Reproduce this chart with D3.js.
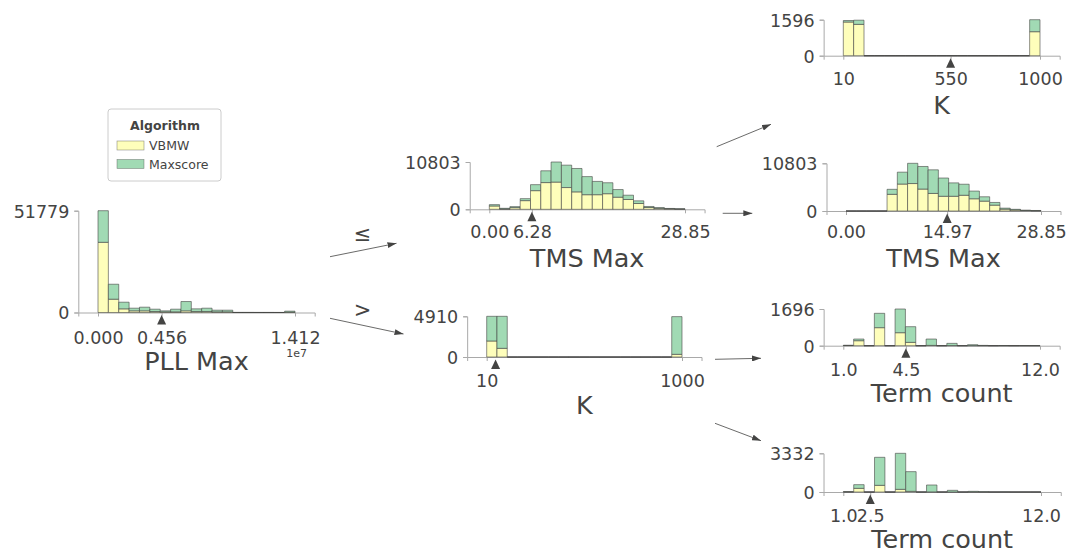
<!DOCTYPE html>
<html><head><meta charset="utf-8">
<script src="https://cdn.jsdelivr.net/npm/d3@7"></script>
<style>
body{margin:0;background:#fff;}
svg{display:block;}
text{font-family:"DejaVu Sans",sans-serif;fill:#444443;}
</style></head><body>
<svg id="chart" width="1068" height="553"></svg>
<script>
// ---------------- DATA ----------------
const classNames = ["VBMW", "Maxscore"];
const legendTitle = "Algorithm";

// Root: PLL Max (19 bins over [0, 1.412e7]), split 0.456e7
const pllDomain = [0, 14120000];
const pllSplit = 4560000;
const pllTicks = [0, 4560000, 14120000];
const pllVBMW     = [35703, 6768, 1861, 846, 846, 508, 338, 338, 846, 508, 508, 338, 338, 10, 10, 10, 10, 5, 169];
const pllMaxscore = [16076, 7615, 3384, 1354, 1861, 1184, 508, 1354, 4738, 1353, 1692, 846, 846, 30, 30, 20, 20, 15, 508];

// Left child (<=): TMS Max, split 6.28
const tmsDomain = [0, 28.85];
const tmsLeftSplit = 6.28;
const tmsLeftTicks = [0, 6.28, 28.85];
const tmsLeftVBMW     = [760, 76, 380, 1978, 4260, 6103, 6216, 4966, 3980, 3336, 3336, 3564, 2768, 2236, 1327, 417, 228, 114, 57];
const tmsLeftMaxscore = [305, 152, 228, 456, 1370, 2691, 4587, 5117, 5345, 4132, 3032, 2501, 1743, 986, 606, 228, 151, 76, 57];

// Right child (>): K, split ~55
const kDomain = [10, 1000];
const kRightSplit = 55;
const kRightTicks = [10, 1000];
const kRightVBMW     = [1932, 1046, 0, 0, 0, 0, 0, 0, 0, 0, 0, 0, 0, 0, 0, 0, 0, 0, 322];
const kRightMaxscore = [2978, 3864, 0, 0, 0, 0, 0, 0, 0, 0, 0, 0, 0, 0, 0, 0, 0, 0, 4548];

// Grandchild: K, split 550
const kTopSplit = 550;
const kTopTicks = [10, 550, 1000];
const kTopVBMW     = [1493, 1389, 0, 0, 0, 0, 0, 0, 0, 0, 0, 0, 0, 0, 0, 0, 0, 0, 1064];
const kTopMaxscore = [67, 186, 0, 0, 0, 0, 0, 0, 0, 0, 0, 0, 0, 0, 0, 0, 0, 0, 532];

// Grandchild: TMS Max, split 14.97
const tmsRightSplit = 14.97;
const tmsRightTicks = [0, 14.97, 28.85];
const tmsRightVBMW     = [0, 0, 0, 0, 3777, 6103, 6216, 4966, 3980, 3336, 3336, 3564, 2768, 2236, 1327, 417, 228, 114, 57];
const tmsRightMaxscore = [0, 0, 0, 0, 1133, 2691, 4587, 5117, 5345, 4132, 3032, 2501, 1743, 986, 606, 228, 151, 76, 57];

// Grandchild: Term count, split 4.5
const termDomain = [1, 12];
const termASplit = 4.5;
const termATicks = [1, 4.5, 12];
const termAVBMW     = [10, 231, 0, 833, 0, 601, 154, 0, 15, 0, 5, 0, 3, 1, 0, 0, 0, 0, 0];
const termAMaxscore = [10, 77, 0, 663, 0, 1095, 725, 0, 293, 0, 103, 0, 43, 14, 0, 8, 0, 4, 2];

// Grandchild: Term count, split 2.5
const termBSplit = 2.5;
const termBTicks = [1, 2.5, 12];
const termBVBMW     = [10, 316, 0, 574, 0, 230, 57, 0, 10, 0, 3, 0, 1, 0, 0, 0, 0, 0, 0];
const termBMaxscore = [15, 316, 0, 2413, 0, 3102, 1695, 0, 593, 0, 141, 0, 56, 20, 0, 10, 0, 5, 3];

const edgeLabels = ["\u2264", ">"];

// ---------------- STYLE / LAYOUT ----------------
const colors = ["#fefebb", "#a1dab4"];
const edgeColor = "#444443";
const axisColor = "#a9a9a9";
const tickFont = 17.5, labelFont = 25.5;

const nodes = [
  {feature:"PLL Max", domain:pllDomain, split:pllSplit, ticks:pllTicks, a:pllVBMW, b:pllMaxscore,
   fmt:v => (v/1e7).toFixed(3), offset:"1e7",
   L:{x0:98, x1:295, base:312.5, top:210.7, tickDy:31, labelDy:57}},
  {feature:"TMS Max", domain:tmsDomain, split:tmsLeftSplit, ticks:tmsLeftTicks, a:tmsLeftVBMW, b:tmsLeftMaxscore,
   fmt:v => v.toFixed(2), L:{x0:489.3, x1:685, base:209.3, top:162, tickDy:28.5, labelDy:57.5}},
  {feature:"K", domain:kDomain, split:kRightSplit, ticks:kRightTicks, a:kRightVBMW, b:kRightMaxscore,
   fmt:v => d3.format("d")(v), L:{x0:486.7, x1:682, base:357, top:316.3, tickDy:30, labelDy:57}},
  {feature:"K", domain:kDomain, split:kTopSplit, ticks:kTopTicks, a:kTopVBMW, b:kTopMaxscore,
   fmt:v => d3.format("d")(v), L:{x0:843.3, x1:1040, base:55.7, top:19.7, tickDy:29, labelDy:58}},
  {feature:"TMS Max", domain:tmsDomain, split:tmsRightSplit, ticks:tmsRightTicks, a:tmsRightVBMW, b:tmsRightMaxscore,
   fmt:v => v.toFixed(2), L:{x0:846, x1:1041, base:211, top:163.3, tickDy:27, labelDy:56}},
  {feature:"Term count", domain:termDomain, split:termASplit, ticks:termATicks, a:termAVBMW, b:termAMaxscore,
   fmt:v => v.toFixed(1), L:{x0:843.3, x1:1040, base:345.7, top:309, tickDy:30, labelDy:56.5}},
  {feature:"Term count", domain:termDomain, split:termBSplit, ticks:termBTicks, a:termBVBMW, b:termBMaxscore,
   fmt:v => v.toFixed(1), L:{x0:843.3, x1:1041, base:492, top:453.3, tickDy:30, labelDy:55.5}}
];

const arrows = [
  [330, 256.7, 396.5, 243.3],
  [330, 318.3, 403.5, 334],
  [716.7, 146.7, 771, 124.3],
  [722.7, 213.3, 752.3, 213.3],
  [715, 359.3, 761, 358.3],
  [715, 423.3, 761, 440.7]
];
const edgeLabelPos = [[362.5, 240.5], [362.5, 317]];

// ---------------- DRAW ----------------
const svg = d3.select("#chart");
svg.append("rect").attr("width",1068).attr("height",553).attr("fill","#fff");

const defs = svg.append("defs");
defs.append("marker").attr("id","arrow").attr("viewBox","0 0 9 6")
  .attr("markerWidth",9).attr("markerHeight",6).attr("markerUnits","userSpaceOnUse")
  .attr("refX",9).attr("refY",3).attr("orient","auto")
  .append("path").attr("d","M0,0 L9,3 L0,6 Z").attr("fill",edgeColor);

nodes.forEach(n => {
  const L = n.L;
  const w = L.x1 - L.x0, r = n.domain[1] - n.domain[0];
  const x = d3.scaleLinear()
    .domain([n.domain[0] - 0.1*r, n.domain[1] + 0.1*r])
    .range([L.x0 - 0.1*w, L.x1 + 0.1*w]);
  const totals = n.a.map((v,i) => v + n.b[i]);
  const ymax = d3.max(totals);
  const y = d3.scaleLinear().domain([0, ymax]).range([L.base, L.top]);
  const nb = n.a.length;
  const edges = d3.range(nb+1).map(i => n.domain[0] + i*r/nb);
  const g = svg.append("g");

  // axes
  const xAxis = d3.axisBottom(x).tickValues(n.ticks).tickFormat(n.fmt).tickSizeOuter(0).tickSize(4);
  const gx = g.append("g").attr("transform",`translate(0,${L.base})`).call(xAxis);
  gx.selectAll("text").attr("y", L.tickDy).attr("dy", 0)
    .style("font-size", tickFont+"px").style("font-family","DejaVu Sans").attr("fill","#444443");
  const yAxis = d3.axisLeft(y).tickValues([0, ymax]).tickFormat(d3.format("d")).tickSizeOuter(0).tickSize(4).tickPadding(5);
  const gy = g.append("g").attr("transform",`translate(${L.x0 - 0.1*w},0)`).call(yAxis);
  gy.selectAll("text").attr("dy","0.36em")
    .style("font-size", tickFont+"px").style("font-family","DejaVu Sans").attr("fill","#444443");
  g.selectAll(".domain, .tick line").attr("stroke", axisColor).attr("stroke-width", 1);

  // stacked bars
  const segs = [];
  n.a.forEach((v,i) => {
    segs.push({x0:edges[i], x1:edges[i+1], y0:0, y1:v, c:0});
    segs.push({x0:edges[i], x1:edges[i+1], y0:v, y1:v+n.b[i], c:1});
  });
  g.append("g").selectAll("path").data(segs).join("path")
    .attr("d", s => `M${x(s.x0)},${y(s.y0)}H${x(s.x1)}V${y(s.y1)}H${x(s.x0)}Z`)
    .attr("fill", s => colors[s.c])
    .attr("stroke", edgeColor).attr("stroke-width", 0.8).attr("stroke-opacity", 0.75);

  // split triangle
  const sx = x(n.split);
  g.append("path")
    .attr("d", `M${sx},${L.base+2.5}L${sx+4.5},${L.base+12}L${sx-4.5},${L.base+12}Z`)
    .attr("fill", edgeColor);

  // x label
  g.append("text").attr("x", (L.x0+L.x1)/2).attr("y", L.base + L.labelDy)
    .attr("text-anchor","middle").style("font-size", labelFont+"px").text(n.feature);
  if (n.offset) {
    g.append("text").attr("x", L.x1 + 12).attr("y", L.base + 44)
      .attr("text-anchor","end").style("font-size","11px").text(n.offset);
  }
});

// arrows
svg.append("g").selectAll("line").data(arrows).join("line")
  .attr("x1", d => d[0]).attr("y1", d => d[1]).attr("x2", d => d[2]).attr("y2", d => d[3])
  .attr("stroke", edgeColor).attr("stroke-width", 0.8).attr("marker-end","url(#arrow)");

svg.append("g").selectAll("text").data(edgeLabels).join("text")
  .attr("x", (d,i) => edgeLabelPos[i][0]).attr("y", (d,i) => edgeLabelPos[i][1])
  .attr("text-anchor","middle").style("font-size","21px").text(d => d);

// legend
const lg = svg.append("g");
lg.append("rect").attr("x",108).attr("y",109).attr("width",113).attr("height",72).attr("rx",3)
  .attr("fill","#fff").attr("stroke","#cccccc").attr("stroke-width",1);
lg.append("text").attr("x",165).attr("y",130).attr("text-anchor","middle")
  .style("font-size","12.5px").style("font-weight","bold").text(legendTitle);
classNames.forEach((c,i) => {
  lg.append("rect").attr("x",117).attr("y",141 + i*18.5).attr("width",27).attr("height",9)
    .attr("fill",colors[i]).attr("stroke",edgeColor).attr("stroke-width",0.6).attr("stroke-opacity",0.6);
  lg.append("text").attr("x",149).attr("y",150 + i*18.5).style("font-size","12.5px").text(c);
});
</script>
</body></html>
